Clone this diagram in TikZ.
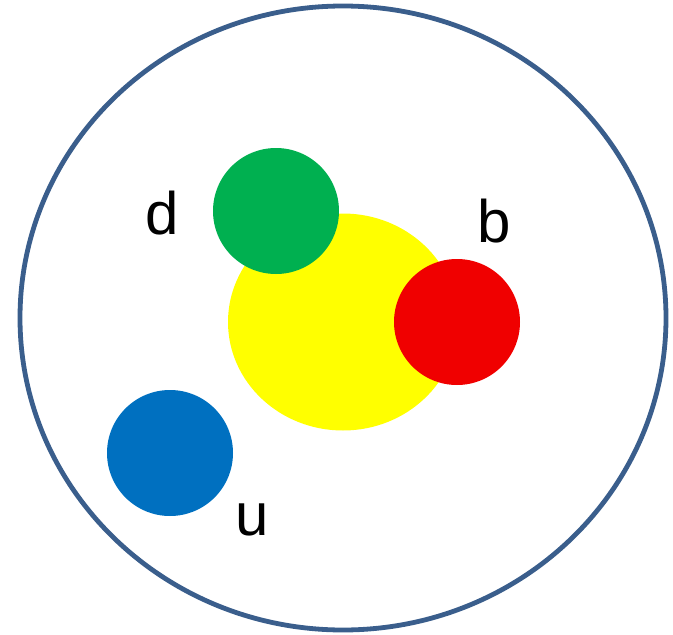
\documentclass[tikz,border=0pt]{standalone}
\usepackage{fontspec}
\setmainfont{Liberation Sans}
\usetikzlibrary{shapes.geometric}
\definecolor{rimblue}{RGB}{58,94,140}
\definecolor{qgreen}{RGB}{0,176,80}
\definecolor{qyellow}{RGB}{255,255,0}
\definecolor{qred}{RGB}{240,0,0}
\definecolor{qblue}{RGB}{0,112,192}
\begin{document}
\begin{tikzpicture}[
  x=1pt, y=-1pt,
  quark/.style={circle, inner sep=0pt, minimum size=126pt},
  lbl/.style={anchor=base, inner sep=0pt, font=\fontsize{60}{60}\selectfont}]
  \useasboundingbox (0,0) rectangle (673,635);
  \node[ellipse, draw=rimblue, line width=4.8pt, minimum width=646pt, minimum height=624pt] (nucleon) at (343,318) {};
  \node[ellipse, fill=qyellow, inner sep=0pt, minimum width=230pt, minimum height=217pt] (core) at (343,322) {};
  \node[quark, fill=qgreen] (qd) at (276,211) {};
  \node[quark, fill=qred] (qb) at (457,322) {};
  \node[quark, fill=qblue] (qu) at (170,453) {};
  \node[lbl] (ld) at (162,234) {d};
  \node[lbl] (lb) at (494,242) {b};
  \node[lbl] (lu) at (252,535) {u};
\end{tikzpicture}
\end{document}
